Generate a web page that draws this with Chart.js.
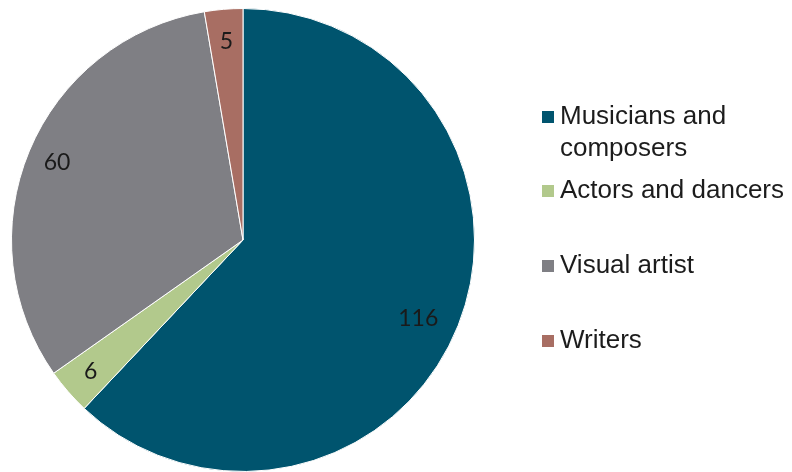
<!DOCTYPE html>
<html>
<head>
<meta charset="utf-8">
<script src="https://cdn.jsdelivr.net/npm/chart.js@4/dist/chart.umd.min.js"></script>
<style>
  html, body { margin: 0; padding: 0; background: #fff; overflow: hidden; }
  #wrap { width: 792px; height: 472px; position: relative; }
</style>
</head>
<body>
<div id="wrap"><canvas id="pie"></canvas></div>
<script>
// Artists by occupation
const categories = [
  ['Musicians and', 'composers'],
  ['Actors and dancers'],
  ['Visual artist'],
  ['Writers']
];
const counts = [116, 6, 60, 5];
const sliceColors = ['#00546E', '#B2C98C', '#7F7F84', '#A86E63'];

// legend rows: vertical centre of each entry's first line
const legendRowY = [117, 191, 266, 341];

// value labels inside each slice
const sliceLabels = {
  id: 'sliceLabels',
  afterDatasetsDraw(chart) {
    const ctx = chart.ctx;
    const meta = chart.getDatasetMeta(0);
    const radial = [0.83, 0.87, 0.87, 0.86];
    ctx.save();
    ctx.font = '23px Lato, "Open Sans", sans-serif';
    ctx.fillStyle = '#1a1a1a';
    ctx.textAlign = 'center';
    ctx.textBaseline = 'middle';
    meta.data.forEach((arc, i) => {
      const p = arc.getProps(['x', 'y', 'startAngle', 'endAngle', 'outerRadius'], true);
      let mid = (p.startAngle + p.endAngle) / 2;
      if (i === 0) mid += 0.045;
      const r = p.outerRadius * radial[i];
      ctx.fillText(String(counts[i]), p.x + Math.cos(mid) * r, p.y + Math.sin(mid) * r);
    });
    ctx.restore();
  }
};

// legend on the right with wrapped entries
const sideLegend = {
  id: 'sideLegend',
  afterDraw(chart) {
    const ctx = chart.ctx;
    ctx.save();
    ctx.font = '26px "Liberation Sans", Arial, sans-serif';
    ctx.textBaseline = 'middle';
    ctx.textAlign = 'left';
    chart.data.labels.forEach((lines, i) => {
      const y = legendRowY[i];
      ctx.fillStyle = sliceColors[i];
      ctx.fillRect(542, y - 6, 12, 12);
      ctx.fillStyle = '#1c1c1c';
      lines.forEach((line, j) => ctx.fillText(line, 560, y + j * 32));
    });
    ctx.restore();
  }
};

new Chart(document.getElementById('pie'), {
  type: 'pie',
  data: {
    labels: categories,
    datasets: [{
      data: counts,
      backgroundColor: sliceColors,
      borderColor: '#ffffff',
      borderWidth: 1
    }]
  },
  options: {
    responsive: true,
    maintainAspectRatio: false,
    animation: false,
    layout: { padding: { left: 10, right: 316, top: 8, bottom: 0 } },
    plugins: {
      legend: { display: false },
      tooltip: { enabled: false }
    }
  },
  plugins: [sliceLabels, sideLegend]
});
</script>
</body>
</html>
